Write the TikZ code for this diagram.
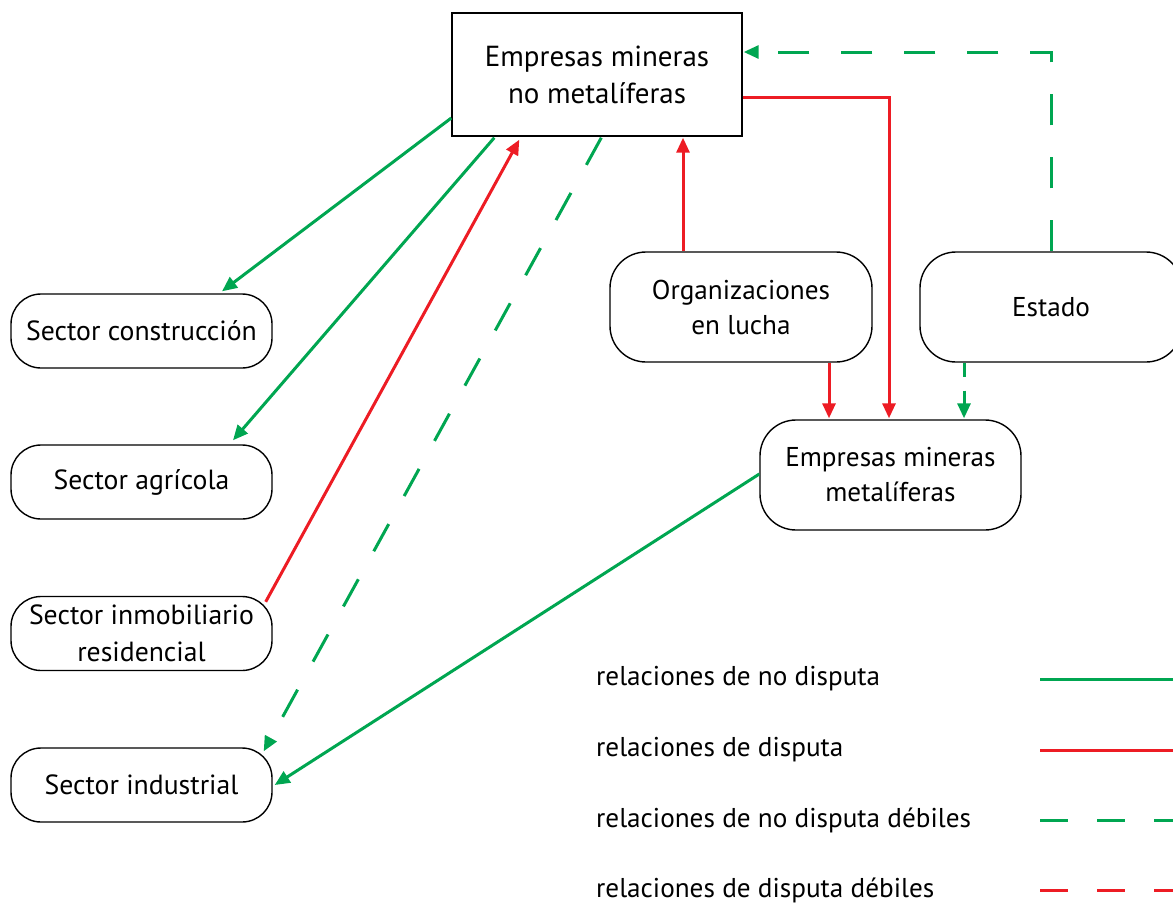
\documentclass[tikz,border=0pt]{standalone}
\usepackage{fontspec}
\setmainfont{PT Sans}
\usetikzlibrary{arrows.meta,calc}
\definecolor{pgreen}{RGB}{0,166,81}
\definecolor{pred}{RGB}{237,28,36}
\begin{document}
\begin{tikzpicture}[x=1pt,y=-1pt,
  box/.style={draw=black,line width=1.4pt,rounded corners=30pt,minimum width=261pt,minimum height=74pt,align=center,inner sep=0pt,font=\fontsize{27.7}{37}\selectfont},
  bigbox/.style={box,minimum height=110pt,rounded corners=36pt,font=\fontsize{27.2}{35}\selectfont},
  topbox/.style={draw=black,line width=1.4pt,minimum width=290pt,minimum height=123pt,align=center,inner sep=0pt,font=\fontsize{29}{37}\selectfont},
  legtext/.style={anchor=west,inner sep=0pt,font=\fontsize{27.2}{30}\selectfont},
  conn/.style={line width=3pt,-{Triangle[length=15pt,width=13pt]}},
  nodisp/.style={conn,draw=pgreen},
  disp/.style={conn,draw=pred},
  weakdash/.style={dash pattern=on 31pt off 32pt},
  legline/.style={line width=3pt},
  legdash/.style={dash pattern=on 28pt off 29pt}
]
\useasboundingbox (0,0) rectangle (1173,903);

\node[topbox] (top) at (597,74.5) {Empresas mineras\\no metalíferas};
\node[box] (sc) at (141.5,331) {Sector construcción};
\node[box] (sa) at (141.5,482) {Sector agrícola};
\node[box] (si) at (141.5,633.5) {Sector inmobiliario\\residencial};
\node[box] (sind) at (141.5,785) {Sector industrial};
\node[bigbox,minimum width=262pt] (org) at (741,307) {Organizaciones\\en lucha};
\node[bigbox,minimum width=262pt] (est) at (1051,307) {Estado};
\node[bigbox] (met) at (890.5,475) {Empresas mineras\\metalíferas};

% connectors
\draw[nodisp] ($(top.west)+(0,43.5)$) -- ($(sc.north)+(80.5,-2)$);
\draw[nodisp] ($(top.south west)+(43,1)$) -- ($(sa.north)+(91.5,-4)$);
\draw[disp] ($(si.north east)+(-7,6)$) -- ($(top.south west)+(68,3)$);
\draw[nodisp,weakdash] ($(top.south west)+(150,1)$) -- ($(sind.north east)+(-9,4)$);
\draw[disp] ($(org.north)+(-58,0)$) -- ($(top.south)+(86,1)$);
\draw[disp] ($(top.east)+(0,22.5)$) -| ($(met.north)+(-1.5,-1)$);
\draw[nodisp,weakdash] (est.north) |- ($(top.east)+(1,-22.5)$);
\draw[disp] ($(org.south)+(88,0)$) -- ($(met.north)+(-61.5,-1)$);
\draw[nodisp,dash pattern=on 14pt off 14pt] ($(est.south)+(-87,0)$) -- ($(met.north)+(73.5,-1)$);
\draw[nodisp] ($(met.west)+(0,-1)$) -- ($(sind.east)+(2,0)$);

% legend
\node[legtext] (l1) at (596,679) {relaciones de no disputa};
\node[legtext] (l2) at (596,750) {relaciones de disputa};
\node[legtext] (l3) at (596,820) {relaciones de no disputa débiles};
\node[legtext] (l4) at (596,890) {relaciones de disputa débiles};
\coordinate (a1) at (1040,679); \coordinate (b1) at (1180,679);
\coordinate (a2) at (1040,750); \coordinate (b2) at (1180,750);
\coordinate (a3) at (1040,820); \coordinate (b3) at (1180,820);
\coordinate (a4) at (1040,890); \coordinate (b4) at (1180,890);
\draw[legline,pgreen] (a1) -- (b1);
\draw[legline,pred] (a2) -- (b2);
\draw[legline,pgreen,legdash] (a3) -- (b3);
\draw[legline,pred,legdash] (a4) -- (b4);
\end{tikzpicture}
\end{document}
